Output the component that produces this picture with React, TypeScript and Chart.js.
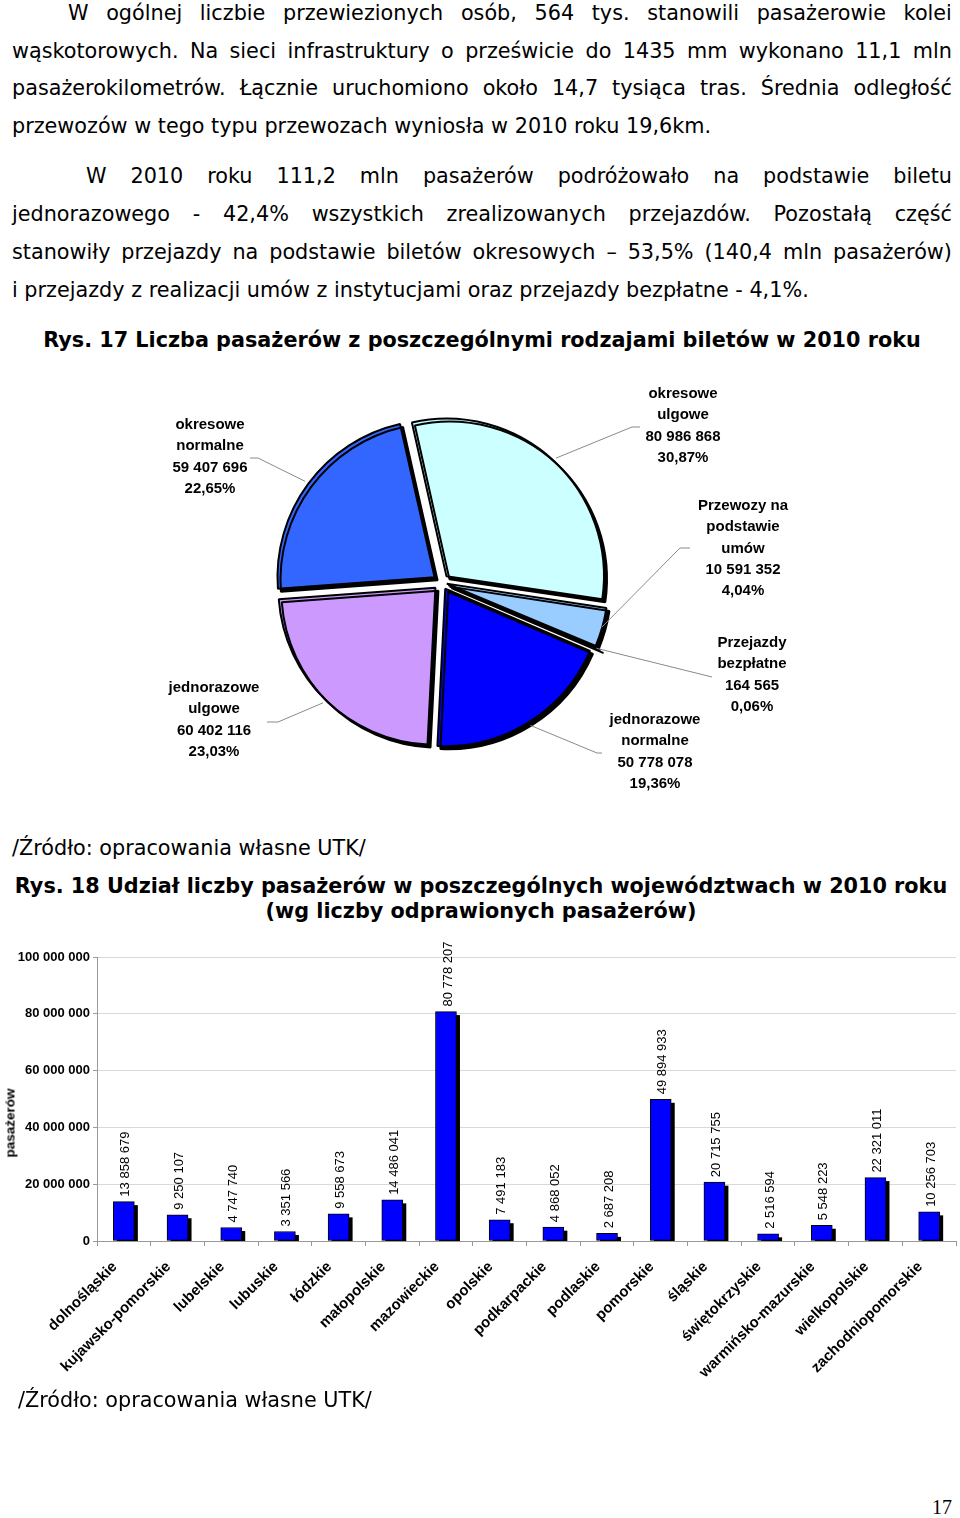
import React, { useEffect, useRef } from 'react';
import { Chart, registerables } from 'chart.js';

Chart.register(...registerables);

// ---------- DATA ----------
const pieCategories = [
  'okresowe\nulgowe',
  'Przewozy na\npodstawie\numów',
  'Przejazdy\nbezpłatne',
  'jednorazowe\nnormalne',
  'jednorazowe\nulgowe',
  'okresowe\nnormalne',
];
const pieValues = [80986868, 10591352, 164565, 50778078, 60402116, 59407696];

const regions = [
  'dolnośląskie',
  'kujawsko-pomorskie',
  'lubelskie',
  'lubuskie',
  'łódzkie',
  'małopolskie',
  'mazowieckie',
  'opolskie',
  'podkarpackie',
  'podlaskie',
  'pomorskie',
  'śląskie',
  'świętokrzyskie',
  'warmińsko-mazurskie',
  'wielkopolskie',
  'zachodniopomorskie',
];
const regionValues = [
  13858679, 9250107, 4747740, 3351566, 9558673, 14486041, 80778207, 7491183,
  4868052, 2687208, 49894933, 20715755, 2516594, 5548223, 22321011, 10256703,
];
const yTicks = [0, 20000000, 40000000, 60000000, 80000000, 100000000];

// ---------- STYLE / LAYOUT ----------
const pieColors = ['#CCFFFF', '#99CCFF', '#6699FF', '#0000FF', '#CC99FF', '#3366FF'];
const pieOffsets = [32, 24, 32, 32, 32, 32];
const PIE_TOP = 370;
const PIE_H = 440;
// label layout in page coordinates: text centre x, first line centre y, leader polyline points
const pieLabelLayout = [
  { x: 683, y: 394, line: [[632, 427], [640, 427]] },
  { x: 743, y: 506, line: [[680, 548], [690, 548]] },
  { x: 752, y: 643, line: [[712, 677]] },
  { x: 655, y: 720, line: [[597, 753], [602, 753]] },
  { x: 214, y: 688, line: [[278, 722], [267, 722]] },
  { x: 210, y: 425, line: [[258, 458], [250, 458]] },
];

const BAR_TOP = 930;
const BAR_H = 460;

const CHART_FONT = '"Liberation Sans", Arial, Helvetica, sans-serif';
const TEXT_FONT = '"DejaVu Sans", Verdana, sans-serif';
const TEXT_SIZE = 20.75;

const fmt = (n: number) => String(Math.round(n)).replace(/\B(?=(\d{3})+(?!\d))/g, ' ');
const pieTotal = pieValues.reduce((a, b) => a + b, 0);
const pct = (v: number) => ((v / pieTotal) * 100).toFixed(2).replace('.', ',') + '%';

const shadowPlugin = (dx: number, dy: number) => ({
  id: 'dropShadow',
  beforeDatasetsDraw(chart: any) {
    const c = chart.ctx;
    c.save();
    c.shadowColor = '#000';
    c.shadowBlur = 0;
    c.shadowOffsetX = dx;
    c.shadowOffsetY = dy;
  },
  afterDatasetsDraw(chart: any) {
    chart.ctx.restore();
  },
});

const barShadowPlugin = {
  id: 'barShadow',
  beforeDatasetsDraw(chart: any) {
    const ctx = chart.ctx;
    const area = chart.chartArea;
    const meta = chart.getDatasetMeta(0);
    ctx.save();
    ctx.beginPath();
    ctx.rect(area.left, area.top - 40, area.right - area.left, area.bottom - area.top + 40);
    ctx.clip();
    ctx.fillStyle = '#000';
    meta.data.forEach((bar: any) => {
      const { x, y, base, width } = bar.getProps(['x', 'y', 'base', 'width'], true);
      ctx.fillRect(x - width / 2 + 3.5, y + 3.5, width, base - y);
    });
    ctx.restore();
  },
};

const pieLabelPlugin = {
  id: 'pieLabels',
  afterDatasetsDraw(chart: any) {
    const ctx = chart.ctx;
    const meta = chart.getDatasetMeta(0);
    ctx.save();
    ctx.shadowColor = 'rgba(0,0,0,0)';
    ctx.shadowOffsetX = 0;
    ctx.shadowOffsetY = 0;
    meta.data.forEach((arc: any, i: number) => {
      const p = arc.getProps(['x', 'y', 'startAngle', 'endAngle', 'outerRadius'], true);
      const mid = (p.startAngle + p.endAngle) / 2;
      const r = p.outerRadius + pieOffsets[i] / 4 + 4;
      const sx = p.x + Math.cos(mid) * r;
      const sy = p.y + Math.sin(mid) * r;
      const lay = pieLabelLayout[i];
      ctx.strokeStyle = '#8a8a8a';
      ctx.lineWidth = 1;
      ctx.beginPath();
      ctx.moveTo(sx, sy);
      lay.line.forEach(([x, y]) => ctx.lineTo(x, y - PIE_TOP));
      ctx.stroke();
      const lines = [...pieCategories[i].split('\n'), fmt(pieValues[i]), pct(pieValues[i])];
      ctx.fillStyle = '#000';
      ctx.font = `bold 15px ${CHART_FONT}`;
      ctx.textAlign = 'center';
      ctx.textBaseline = 'middle';
      lines.forEach((t, k) => ctx.fillText(t, lay.x, lay.y - PIE_TOP + k * 21.3));
    });
    ctx.restore();
  },
};

const barValuePlugin = {
  id: 'barValues',
  afterDatasetsDraw(chart: any) {
    const ctx = chart.ctx;
    const meta = chart.getDatasetMeta(0);
    ctx.save();
    ctx.fillStyle = '#000';
    ctx.font = `13px ${CHART_FONT}`;
    ctx.textAlign = 'left';
    ctx.textBaseline = 'middle';
    meta.data.forEach((bar: any, i: number) => {
      const { x, y } = bar.getProps(['x', 'y'], true);
      ctx.save();
      ctx.translate(x + 2, y - 5);
      ctx.rotate(-Math.PI / 2);
      ctx.fillText(fmt(regionValues[i]), 0, 0);
      ctx.restore();
    });
    ctx.restore();
  },
};

function PieChart() {
  const ref = useRef<HTMLCanvasElement>(null);
  useEffect(() => {
    if (!ref.current) return;
    const chart = new Chart(ref.current, {
      type: 'pie',
      data: {
        labels: pieCategories.map((c) => c.replace(/\n/g, ' ')),
        datasets: [
          {
            data: pieValues,
            backgroundColor: pieColors,
            borderColor: '#000',
            borderWidth: 2,
            offset: pieOffsets,
          } as any,
        ],
      },
      options: {
        responsive: false,
        animation: false,
        rotation: -12.7,
        radius: 157,
        layout: { padding: { left: 0, right: 78, top: 0, bottom: 16 } },
        plugins: { legend: { display: false }, tooltip: { enabled: false } },
      } as any,
      plugins: [shadowPlugin(3, 3), pieLabelPlugin],
    });
    return () => chart.destroy();
  }, []);
  return (
    <canvas
      ref={ref}
      width={960}
      height={PIE_H}
      style={{ position: 'absolute', left: 0, top: PIE_TOP, width: 960, height: PIE_H }}
    />
  );
}

function BarChart() {
  const ref = useRef<HTMLCanvasElement>(null);
  useEffect(() => {
    if (!ref.current) return;
    const chart = new Chart(ref.current, {
      type: 'bar',
      data: {
        labels: regions,
        datasets: [
          {
            data: regionValues,
            backgroundColor: '#0000FF',
            borderColor: '#000',
            borderWidth: 1,
            borderSkipped: false,
            barThickness: 21,
            clip: 0,
          } as any,
        ],
      },
      options: {
        responsive: false,
        animation: false,
        layout: { padding: { top: 27, right: 4, left: 0, bottom: 0 } },
        plugins: { legend: { display: false }, tooltip: { enabled: false } },
        scales: {
          x: {
            grid: { display: true, drawOnChartArea: false, drawTicks: true, tickLength: 5, color: '#999', offset: true },
            border: { color: '#999' },
            ticks: {
              autoSkip: false,
              maxRotation: 45,
              minRotation: 45,
              color: '#000',
              font: { family: CHART_FONT, weight: 'bold', size: 15 },
              padding: 12,
              labelOffset: -9,
            },
            afterFit: (s: any) => {
              s.height = BAR_H - 311;
            },
          },
          y: {
            min: yTicks[0],
            max: yTicks[yTicks.length - 1],
            ticks: {
              stepSize: yTicks[1] - yTicks[0],
              color: '#000',
              font: { family: CHART_FONT, weight: 'bold', size: 13 },
              padding: 3,
              callback: (v: any) => fmt(Number(v)),
            },
            grid: { color: '#d9d9d9', tickLength: 4, tickColor: '#999' },
            border: { color: '#999' },
            afterFit: (s: any) => {
              s.width = 97;
            },
          },
        },
      } as any,
      plugins: [barShadowPlugin, barValuePlugin],
    });
    return () => chart.destroy();
  }, []);
  return (
    <canvas
      ref={ref}
      width={960}
      height={BAR_H}
      style={{ position: 'absolute', left: 0, top: BAR_TOP, width: 960, height: BAR_H }}
    />
  );
}

function JLine({ text, left, right, cy, bold }: { text: string; left: number; right: number; cy: number; bold?: boolean }) {
  return (
    <div
      style={{
        position: 'absolute',
        left,
        width: right - left,
        top: cy - 13,
        height: 26,
        lineHeight: '26px',
        display: 'flex',
        justifyContent: 'space-between',
        whiteSpace: 'nowrap',
        fontFamily: TEXT_FONT,
        fontSize: TEXT_SIZE,
        fontWeight: bold ? 'bold' : 'normal',
        color: '#000',
      }}
    >
      {text.split(' ').map((w, i) => (
        <span key={i}>{w}</span>
      ))}
    </div>
  );
}

function LLine({ text, left, cy, bold }: { text: string; left: number; cy: number; bold?: boolean }) {
  return (
    <div
      style={{
        position: 'absolute',
        left,
        top: cy - 13,
        height: 26,
        lineHeight: '26px',
        whiteSpace: 'nowrap',
        fontFamily: TEXT_FONT,
        fontSize: TEXT_SIZE,
        fontWeight: bold ? 'bold' : 'normal',
        color: '#000',
      }}
    >
      {text}
    </div>
  );
}

function CLine({ text, cx, cy, bold }: { text: string; cx: number; cy: number; bold?: boolean }) {
  return (
    <div
      style={{
        position: 'absolute',
        left: cx - 480,
        width: 960,
        top: cy - 13,
        height: 26,
        lineHeight: '26px',
        textAlign: 'center',
        whiteSpace: 'nowrap',
        fontFamily: TEXT_FONT,
        fontSize: TEXT_SIZE,
        fontWeight: bold ? 'bold' : 'normal',
        color: '#000',
      }}
    >
      {text}
    </div>
  );
}

export default function App() {
  return (
    <div
      style={{
        position: 'absolute',
        left: 0,
        top: 0,
        width: 960,
        height: 1518,
        overflow: 'hidden',
        background: '#fff',
      }}
    >
      <JLine text="W ogólnej liczbie przewiezionych osób, 564 tys. stanowili pasażerowie kolei" left={68} right={952} cy={13} />
      <JLine text="wąskotorowych. Na sieci infrastruktury o prześwicie do 1435 mm wykonano 11,1 mln" left={12} right={952} cy={51} />
      <JLine text="pasażerokilometrów. Łącznie uruchomiono około 14,7 tysiąca tras. Średnia odległość" left={12} right={952} cy={88} />
      <LLine text="przewozów w tego typu przewozach wyniosła w 2010 roku 19,6km." left={12} cy={126} />

      <JLine text="W 2010 roku 111,2 mln pasażerów podróżowało na podstawie biletu" left={86} right={952} cy={176} />
      <JLine text="jednorazowego - 42,4% wszystkich zrealizowanych przejazdów. Pozostałą część" left={12} right={952} cy={214} />
      <JLine text="stanowiły przejazdy na podstawie biletów okresowych – 53,5% (140,4 mln pasażerów)" left={12} right={952} cy={252} />
      <LLine text="i przejazdy z realizacji umów z instytucjami oraz przejazdy bezpłatne - 4,1%." left={12} cy={290} />

      <CLine text="Rys. 17 Liczba pasażerów z poszczególnymi rodzajami biletów w 2010 roku" cx={482} cy={340} bold />

      <PieChart />

      <LLine text="/Źródło: opracowania własne UTK/" left={12} cy={848} />

      <CLine text="Rys. 18 Udział liczby pasażerów w poszczególnych województwach w 2010 roku" cx={481} cy={886} bold />
      <CLine text="(wg liczby odprawionych pasażerów)" cx={481} cy={911} bold />

      <BarChart />

      <div
        style={{
          position: 'absolute',
          left: 10,
          top: 1123,
          transform: 'translate(-50%, -50%) rotate(-90deg)',
          whiteSpace: 'nowrap',
          fontFamily: CHART_FONT,
          fontWeight: 'bold',
          fontSize: 13.5,
          color: '#000',
        }}
      >
        pasażerów
      </div>

      <LLine text="/Źródło: opracowania własne UTK/" left={18} cy={1400} />

      <div
        style={{
          position: 'absolute',
          right: 8,
          top: 1495,
          lineHeight: '24px',
          fontFamily: '"Liberation Serif", "Times New Roman", serif',
          fontSize: 20,
          color: '#000',
        }}
      >
        17
      </div>
    </div>
  );
}
